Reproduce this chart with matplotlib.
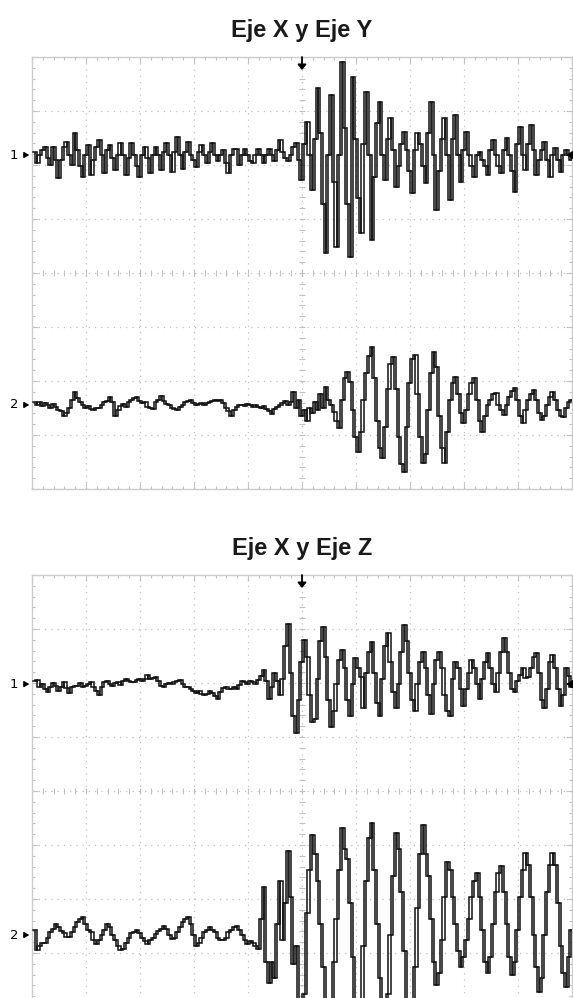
import numpy as np
import matplotlib
matplotlib.use("Agg")
import matplotlib.pyplot as plt

# ---------------- data (amplitudes in screen divisions, one sample every 0.05 div) ----------------
titles = ["Eje X y Eje Y", "Eje X y Eje Z"]
channel_labels = ["1", "2"]

xy_ch1 = [
    0.05, -0.15, 0.0, 0.1, 0.15, -0.05, -0.19, 0.15, -0.1, -0.43,
    -0.1, 0.15, 0.25, 0.0, -0.19, 0.4, 0.1, -0.2, -0.4, 0.0,
    0.19, -0.37, -0.1, 0.15, 0.28, 0.0, -0.34, 0.1, 0.19, -0.05,
    -0.28, 0.0, 0.22, 0.0, -0.37, -0.05, 0.22, 0.0, -0.2, -0.4,
    0.0, 0.15, -0.05, -0.34, 0.0, 0.15, 0.0, -0.28, 0.05, 0.22,
    0.0, -0.31, 0.05, 0.34, 0.0, -0.25, 0.05, 0.25, 0.0, -0.1,
    -0.22, 0.05, 0.19, 0.0, -0.15, 0.05, 0.22, 0.0, -0.12, 0.0,
    0.09, -0.15, -0.34, 0.0, 0.12, 0.12, -0.19, 0.0, 0.12, 0.0,
    -0.12, -0.15, 0.0, 0.12, 0.0, -0.15, 0.0, 0.12, 0.0, -0.12,
    0.1, 0.28, 0.05, -0.05, -0.12, 0.0, 0.15, 0.22, -0.1, -0.46,
    0.2, 0.61, 0.0, -0.65, 0.3, 1.24, 0.4, -0.9, -1.81, 0.0,
    1.11, -0.5, -1.70, 0.0, 1.72, 0.5, -0.9, -1.89, 1.44, 0.3,
    -0.8, -1.44, 0.2, 1.17, 0.0, -1.57, -0.4, 0.6, 0.98, 0.0,
    -0.46, 0.3, 0.69, 0.1, -0.59, -0.2, 0.2, 0.43, 0.1, -0.3,
    -0.70, 0.1, 0.41, 0.2, -0.2, -0.52, 0.4, 0.98, 0.0, -1.02,
    -0.3, 0.3, 0.69, 0.0, -0.83, 0.3, 0.74, 0.0, -0.5, 0.1,
    0.43, 0.0, -0.2, -0.41, 0.0, 0.06, -0.1, -0.2, -0.37, 0.1,
    0.28, 0.0, -0.2, -0.33, 0.1, 0.31, 0.0, -0.3, -0.69, 0.2,
    0.52, 0.0, -0.28, 0.2, 0.56, 0.1, -0.37, -0.1, 0.1, 0.24,
    -0.1, -0.41, 0.0, 0.13, -0.1, -0.31, 0.0, 0.09, 0.0, -0.1,
]

xy_ch2 = [
    0.05, 0.0, 0.05, -0.02, 0.03, 0.0, -0.05, 0.02, -0.03, -0.1,
    -0.12, -0.2, -0.15, -0.05, 0.1, 0.24, 0.12, 0.05, 0.0, -0.05,
    -0.02, -0.08, -0.1, -0.05, -0.05, 0.0, 0.05, 0.08, 0.14, 0.05,
    -0.2, -0.1, -0.02, 0.02, -0.03, 0.05, 0.1, 0.12, 0.14, 0.08,
    0.03, 0.05, -0.03, -0.05, -0.07, 0.05, 0.1, 0.17, 0.08, 0.02,
    0.0, -0.05, -0.08, -0.1, -0.03, 0.0, 0.05, 0.08, 0.1, 0.03,
    0.0, 0.02, 0.03, 0.0, 0.03, 0.05, 0.08, 0.1, 0.07, 0.1,
    0.03, -0.05, -0.12, -0.2, -0.1, -0.03, 0.0, 0.0, -0.02, 0.02,
    0.0, -0.03, 0.0, -0.03, -0.05, -0.02, -0.08, -0.12, -0.17, -0.08,
    -0.03, 0.0, 0.03, 0.07, 0.0, 0.05, 0.24, -0.05, 0.1, -0.2,
    -0.1, -0.3, -0.05, -0.15, 0.05, -0.1, 0.2, -0.05, 0.34, 0.1,
    0.0, -0.13, -0.3, -0.43, 0.1, 0.5, 0.61, 0.43, -0.1, -0.6,
    -0.87, -0.5, 0.1, 0.6, 0.9, 1.07, 0.5, -0.3, -0.8, -0.98,
    -0.4, 0.3, 0.75, 0.89, 0.3, -0.6, -1.1, -1.24, -0.4, 0.4,
    0.85, 0.93, 0.2, -0.6, -1.07, -0.9, -0.1, 0.6, 0.98, 0.7,
    -0.2, -0.8, -1.07, -0.5, 0.1, 0.4, 0.52, 0.2, -0.15, -0.33,
    -0.1, 0.2, 0.4, 0.5, 0.1, -0.3, -0.5, -0.2, 0.0, 0.1,
    0.2, 0.22, 0.0, -0.1, -0.19, 0.0, 0.15, 0.25, 0.31, 0.1,
    -0.2, -0.33, -0.1, 0.1, 0.2, 0.28, 0.1, -0.15, -0.28, -0.2,
    0.0, 0.15, 0.24, 0.1, -0.1, -0.2, -0.22, -0.05, 0.05, 0.09,
]

xz_ch1 = [
    0.05, 0.07, -0.05, 0.0, -0.1, -0.14, -0.05, 0.02, -0.03, -0.12,
    -0.05, 0.03, -0.08, -0.16, -0.05, -0.03, -0.03, 0.02, -0.06, -0.03,
    0.0, 0.03, -0.05, -0.12, -0.2, -0.05, 0.03, 0.06, 0.0, -0.03,
    0.02, 0.03, -0.02, 0.05, 0.1, 0.05, 0.03, 0.03, 0.08, 0.1,
    0.06, 0.1, 0.16, 0.1, 0.12, 0.13, 0.05, -0.03, -0.06, 0.0,
    0.02, 0.0, 0.03, 0.06, 0.07, 0.0, -0.05, -0.06, -0.1, -0.12,
    -0.16, -0.12, -0.18, -0.2, -0.19, -0.12, -0.16, -0.22, -0.27, -0.15,
    -0.08, -0.06, -0.1, -0.1, -0.05, -0.1, -0.02, 0.06, 0.03, 0.0,
    0.05, 0.03, 0.0, 0.08, 0.15, 0.27, 0.05, -0.27, -0.05, 0.2,
    0.05, -0.2, 0.1, 0.7, 1.12, 0.2, -0.6, -0.9, -0.3, 0.4,
    0.81, 0.5, -0.2, -0.7, -0.65, 0.1, 0.8, 1.06, 0.5, -0.3,
    -0.8, -0.5, 0.0, 0.45, 0.63, 0.3, -0.3, -0.6, 0.0, 0.48,
    0.3, 0.14, -0.45, 0.2, 0.6, 0.78, 0.2, -0.35, -0.6, 0.1,
    0.7, 0.94, 0.4, -0.15, -0.45, 0.0, 0.6, 1.09, 0.8, 0.2,
    -0.3, -0.5, 0.0, 0.4, 0.6, 0.3, -0.2, -0.55, 0.0, 0.45,
    0.6, 0.3, -0.2, -0.5, -0.6, 0.1, 0.41, 0.3, -0.1, -0.4,
    -0.1, 0.2, 0.44, 0.3, 0.0, -0.27, 0.1, 0.4, 0.57, 0.3,
    0.0, -0.15, 0.2, 0.6, 0.85, 0.6, 0.2, -0.1, -0.15, 0.05,
    0.17, 0.29, 0.12, 0.14, 0.3, 0.5, 0.57, 0.2, -0.3, -0.45,
    -0.1, 0.4, 0.54, 0.3, -0.1, -0.4, -0.2, 0.29, 0.15, -0.05,
]

xz_ch2 = [
    0.1, -0.27, -0.2, -0.15, -0.15, -0.05, 0.05, 0.12, 0.2, 0.15,
    0.08, 0.03, -0.03, -0.03, 0.05, 0.15, 0.25, 0.3, 0.34, 0.2,
    0.1, 0.05, -0.1, -0.17, -0.1, 0.0, 0.1, 0.2, 0.15, 0.0,
    -0.1, -0.2, -0.27, -0.25, -0.15, -0.05, 0.03, 0.05, 0.1, 0.03,
    -0.05, -0.12, -0.17, -0.1, -0.05, 0.02, 0.08, 0.12, 0.17, 0.12,
    0.0, -0.07, -0.05, 0.05, 0.15, 0.25, 0.3, 0.34, 0.2, 0.0,
    -0.2, -0.15, -0.05, 0.05, 0.1, 0.14, 0.1, 0.05, -0.05, -0.1,
    -0.1, -0.05, 0.05, 0.1, 0.14, 0.17, 0.1, 0.0, -0.1, -0.17,
    -0.12, -0.15, -0.2, -0.25, 0.3, 0.88, -0.5, -0.88, -0.5, -0.8,
    0.2, 1.0, -0.1, 0.6, 1.56, 0.7, -0.54, -0.2, -1.3, -1.5,
    -1.1, 0.4, 1.2, 1.85, 1.5, 1.0, 0.2, -0.6, -1.2, -1.7,
    -1.2, -0.5, 0.3, 1.2, 1.98, 1.6, 1.4, 0.6, -0.4, -1.2,
    -1.8, -1.2, -0.2, 1.0, 1.8, 2.07, 1.2, 0.2, -0.8, -1.5,
    -1.8, -1.1, 0.0, 1.1, 1.88, 1.6, 0.8, -0.3, -1.2, -1.8,
    -1.5, -0.6, 0.5, 1.5, 2.04, 1.5, 1.1, 0.3, -0.5, -0.93,
    -0.7, -0.1, 0.7, 1.36, 1.2, 0.7, 0.2, -0.3, -0.59, -0.4,
    -0.1, 0.3, 0.7, 1.0, 1.14, 0.7, 0.1, -0.5, -0.71, -0.4,
    0.2, 0.8, 1.15, 1.27, 0.8, 0.2, -0.4, -0.74, -0.5, 0.1,
    0.7, 1.2, 1.51, 1.3, 0.7, 0.0, -0.6, -1.05, -0.8, 0.0,
    0.8, 1.3, 1.51, 1.3, 0.6, -0.2, -0.7, -0.96, -0.4, 0.1,
]

# ---------------- layout / style ----------------
W, H = 573, 998
SAMPLE_DIV = 0.05          # horizontal divisions per sample
SHIFT = 0.04               # second pass offset -> hollow oscilloscope look
GRID_C = "#c2c2c2"

fig = plt.figure(figsize=(W / 100, H / 100), dpi=100)
fig.patch.set_facecolor("white")

panels = [
    dict(rect=[32 / W, 1 - 489 / H, 540 / W, 432 / H], title_y=1 - 31 / H,
         traces=[xy_ch1, xy_ch2], bases=[6.185, 1.556]),
    dict(rect=[32 / W, 1 - 1007 / H, 540 / W, 432 / H], title_y=1 - 548 / H,
         traces=[xz_ch1, xz_ch2], bases=[5.98, 1.333]),
]


def style_axes(ax):
    ax.set_xlim(0, 10)
    ax.set_ylim(0, 8)
    ax.set_xticks(np.arange(0, 11, 1))
    ax.set_yticks(np.arange(0, 9, 1))
    ax.set_xticks(np.arange(0, 10.01, 0.2), minor=True)
    ax.set_yticks(np.arange(0, 8.01, 0.2), minor=True)
    ax.tick_params(which="both", direction="in", top=True, right=True,
                   labelbottom=False, labelleft=False, color=GRID_C, width=0.8)
    ax.tick_params(which="major", length=4)
    ax.tick_params(which="minor", length=2.5)
    ax.grid(True, which="major", color=GRID_C, linestyle=(0, (1, 4)), linewidth=0.9)
    for sp in ax.spines.values():
        sp.set_color("#cccccc")
        sp.set_linewidth(1.0)
    xs = np.arange(0, 10.01, 0.2)
    ys = np.arange(0, 8.01, 0.2)
    ax.vlines(xs, 4 - 0.06, 4 + 0.06, color=GRID_C, lw=0.8, zorder=1)
    ax.hlines(ys, 5 - 0.06, 5 + 0.06, color=GRID_C, lw=0.8, zorder=1)


for p in panels:
    ax = fig.add_axes(p["rect"])
    ax.set_facecolor("white")
    style_axes(ax)
    for k, (amps, base) in enumerate(zip(p["traces"], p["bases"])):
        a = np.asarray(amps, dtype=float)
        t = (np.arange(a.size) + 0.5) * SAMPLE_DIV
        for dx in (0.0, SHIFT):
            ax.plot(t + dx, base + a, drawstyle="steps-mid", color="#111111",
                    lw=1.1, zorder=3, solid_joinstyle="miter")
        ax.annotate("", xy=(0.0, base), xytext=(-0.2, base),
                    arrowprops=dict(arrowstyle="-|>,head_width=0.18,head_length=0.3",
                                    color="black", lw=0.9),
                    annotation_clip=False)
        ax.text(-0.33, base, channel_labels[k], ha="center", va="center",
                fontsize=9.5, family="DejaVu Sans", clip_on=False)
    ax.annotate("", xy=(9.84, p["bases"][0]), xytext=(10.0, p["bases"][0]),
                arrowprops=dict(arrowstyle="-|>,head_width=0.25,head_length=0.4",
                                color="black", lw=1.0),
                annotation_clip=False)
    ax.annotate("", xy=(5.0, 7.76), xytext=(5.0, 8.0),
                arrowprops=dict(arrowstyle="-|>,head_width=0.25,head_length=0.3",
                                color="black", lw=1.3, shrinkA=0, shrinkB=0),
                annotation_clip=False)

for p, title in zip(panels, titles):
    fig.text(302 / W, p["title_y"], title, ha="center", va="center",
             fontsize=17, fontweight="bold", family="Liberation Sans", color="#1a1a1a")

fig.savefig("out.png", dpi=100, facecolor="white")
